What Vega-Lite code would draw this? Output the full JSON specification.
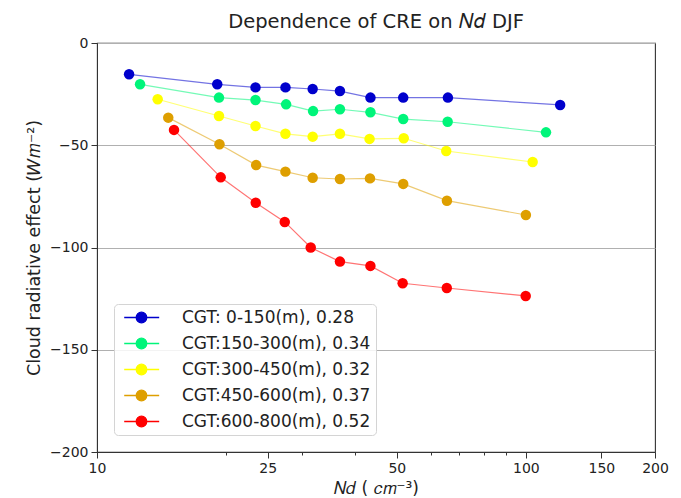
{
  "$schema": "https://vega.github.io/schema/vega-lite/v6.json",
  "width": 558,
  "height": 409,
  "autosize": {"type": "none"},
  "padding": {"left": 97, "top": 43, "right": 26, "bottom": 46},
  "background": "white",
  "config": {
    "font": "DejaVu Sans",
    "view": {"stroke": "#333333", "strokeWidth": 1.1},
    "axis": {"labelFont": "DejaVu Sans", "titleFont": "DejaVu Sans", "labelColor": "#222222", "titleColor": "#222222", "domainColor": "#333333", "tickColor": "#333333", "titleFontWeight": "normal"}
  },
  "title": {"text": "Dependence of CRE on  𝑁𝑑 DJF", "font": "DejaVu Sans", "fontSize": 19.5, "fontWeight": "normal", "color": "#222222", "offset": 4, "anchor": "middle"},
  "data": {"values": [
    {"g": "CGT: 0-150(m), 0.28", "nd": 11.88, "cre": -15.3},
    {"g": "CGT: 0-150(m), 0.28", "nd": 19.07, "cre": -20.2},
    {"g": "CGT: 0-150(m), 0.28", "nd": 23.42, "cre": -21.7},
    {"g": "CGT: 0-150(m), 0.28", "nd": 27.51, "cre": -21.7},
    {"g": "CGT: 0-150(m), 0.28", "nd": 31.83, "cre": -22.5},
    {"g": "CGT: 0-150(m), 0.28", "nd": 36.85, "cre": -23.5},
    {"g": "CGT: 0-150(m), 0.28", "nd": 43.41, "cre": -26.7},
    {"g": "CGT: 0-150(m), 0.28", "nd": 51.76, "cre": -26.7},
    {"g": "CGT: 0-150(m), 0.28", "nd": 65.79, "cre": -26.7},
    {"g": "CGT: 0-150(m), 0.28", "nd": 120.2, "cre": -30.3},
    {"g": "CGT:150-300(m), 0.34", "nd": 12.6, "cre": -20.2},
    {"g": "CGT:150-300(m), 0.34", "nd": 19.25, "cre": -26.7},
    {"g": "CGT:150-300(m), 0.34", "nd": 23.42, "cre": -27.9},
    {"g": "CGT:150-300(m), 0.34", "nd": 27.6, "cre": -30.0},
    {"g": "CGT:150-300(m), 0.34", "nd": 31.9, "cre": -33.3},
    {"g": "CGT:150-300(m), 0.34", "nd": 36.85, "cre": -32.4},
    {"g": "CGT:150-300(m), 0.34", "nd": 43.41, "cre": -33.9},
    {"g": "CGT:150-300(m), 0.34", "nd": 51.76, "cre": -37.2},
    {"g": "CGT:150-300(m), 0.34", "nd": 65.7, "cre": -38.5},
    {"g": "CGT:150-300(m), 0.34", "nd": 111.4, "cre": -43.7},
    {"g": "CGT:300-450(m), 0.32", "nd": 13.85, "cre": -27.5},
    {"g": "CGT:300-450(m), 0.32", "nd": 19.25, "cre": -35.7},
    {"g": "CGT:300-450(m), 0.32", "nd": 23.42, "cre": -40.6},
    {"g": "CGT:300-450(m), 0.32", "nd": 27.5, "cre": -44.4},
    {"g": "CGT:300-450(m), 0.32", "nd": 31.83, "cre": -45.8},
    {"g": "CGT:300-450(m), 0.32", "nd": 36.85, "cre": -44.4},
    {"g": "CGT:300-450(m), 0.32", "nd": 43.2, "cre": -46.9},
    {"g": "CGT:300-450(m), 0.32", "nd": 51.9, "cre": -46.6},
    {"g": "CGT:300-450(m), 0.32", "nd": 65.2, "cre": -52.8},
    {"g": "CGT:300-450(m), 0.32", "nd": 103.7, "cre": -58.2},
    {"g": "CGT:450-600(m), 0.37", "nd": 14.66, "cre": -36.5},
    {"g": "CGT:450-600(m), 0.37", "nd": 19.3, "cre": -49.5},
    {"g": "CGT:450-600(m), 0.37", "nd": 23.5, "cre": -59.7},
    {"g": "CGT:450-600(m), 0.37", "nd": 27.5, "cre": -62.9},
    {"g": "CGT:450-600(m), 0.37", "nd": 31.83, "cre": -65.9},
    {"g": "CGT:450-600(m), 0.37", "nd": 36.85, "cre": -66.5},
    {"g": "CGT:450-600(m), 0.37", "nd": 43.3, "cre": -66.2},
    {"g": "CGT:450-600(m), 0.37", "nd": 51.76, "cre": -68.9},
    {"g": "CGT:450-600(m), 0.37", "nd": 65.45, "cre": -77.1},
    {"g": "CGT:450-600(m), 0.37", "nd": 100.0, "cre": -84.1},
    {"g": "CGT:600-800(m), 0.52", "nd": 15.12, "cre": -42.5},
    {"g": "CGT:600-800(m), 0.52", "nd": 19.43, "cre": -65.7},
    {"g": "CGT:600-800(m), 0.52", "nd": 23.45, "cre": -78.1},
    {"g": "CGT:600-800(m), 0.52", "nd": 27.4, "cre": -87.5},
    {"g": "CGT:600-800(m), 0.52", "nd": 31.5, "cre": -100.0},
    {"g": "CGT:600-800(m), 0.52", "nd": 36.85, "cre": -106.9},
    {"g": "CGT:600-800(m), 0.52", "nd": 43.4, "cre": -109.0},
    {"g": "CGT:600-800(m), 0.52", "nd": 51.6, "cre": -117.5},
    {"g": "CGT:600-800(m), 0.52", "nd": 65.4, "cre": -119.8},
    {"g": "CGT:600-800(m), 0.52", "nd": 99.9, "cre": -123.7}
  ]},
  "encoding": {
    "x": {
      "field": "nd", "type": "quantitative",
      "scale": {"type": "log", "domain": [10, 200], "nice": false},
      "axis": {
        "title": "𝑁𝑑 ( 𝑐𝑚⁻³)", "titleFontSize": 17, "titlePadding": 5,
        "values": [10, 20, 25, 30, 40, 50, 60, 70, 80, 90, 100, 150, 200],
        "labelExpr": "indexof([10, 25, 50, 100, 150, 200], datum.value) >= 0 ? datum.label : ''",
        "labelOverlap": false, "labelFlush": false, "labelFontSize": 14, "labelPadding": 3,
        "grid": false,
        "tickSize": {"condition": {"test": "indexof([10, 25, 50, 100, 150, 200], datum.value) >= 0", "value": 6}, "value": 3}
      }
    },
    "y": {
      "field": "cre", "type": "quantitative",
      "scale": {"domain": [-200, 0], "nice": false},
      "axis": {
        "title": "Cloud radiative effect (𝑊𝑚⁻²)", "titleFontSize": 17.5, "titlePadding": 6,
        "values": [0, -50, -100, -150, -200], "labelFontSize": 14, "tickSize": 6, "labelPadding": 3, "labelFlush": false,
        "grid": true, "gridColor": "#b0b0b0", "gridWidth": 1
      }
    },
    "color": {
      "field": "g", "type": "nominal",
      "scale": {
        "domain": ["CGT: 0-150(m), 0.28", "CGT:150-300(m), 0.34", "CGT:300-450(m), 0.32", "CGT:450-600(m), 0.37", "CGT:600-800(m), 0.52"],
        "range": ["#0000cc", "#00f57a", "#ffff00", "#de9f00", "#ff0000"]
      },
      "legend": {
        "title": null, "orient": "bottom-left", "offset": 17,
        "labelFontSize": 17, "labelFont": "DejaVu Sans", "labelColor": "#222222", "labelLimit": 400,
        "symbolType": "M-0.55,0L5.28,0M1.45,0A0.88,0.88,0,1,1,3.21,0A0.88,0.88,0,1,1,1.45,0Z",
        "symbolSize": 144, "symbolStrokeWidth": 1.3, "symbolOpacity": 1, "labelOffset": 46,
        "rowPadding": 8, "padding": 5,
        "strokeColor": "#d4d4d4", "fillColor": "rgba(255,255,255,0.85)", "cornerRadius": 4
      }
    }
  },
  "layer": [
    {"mark": {"type": "line", "strokeWidth": 1.2, "opacity": 0.55}},
    {"mark": {"type": "point", "filled": true, "size": 110, "opacity": 1}}
  ]
}
